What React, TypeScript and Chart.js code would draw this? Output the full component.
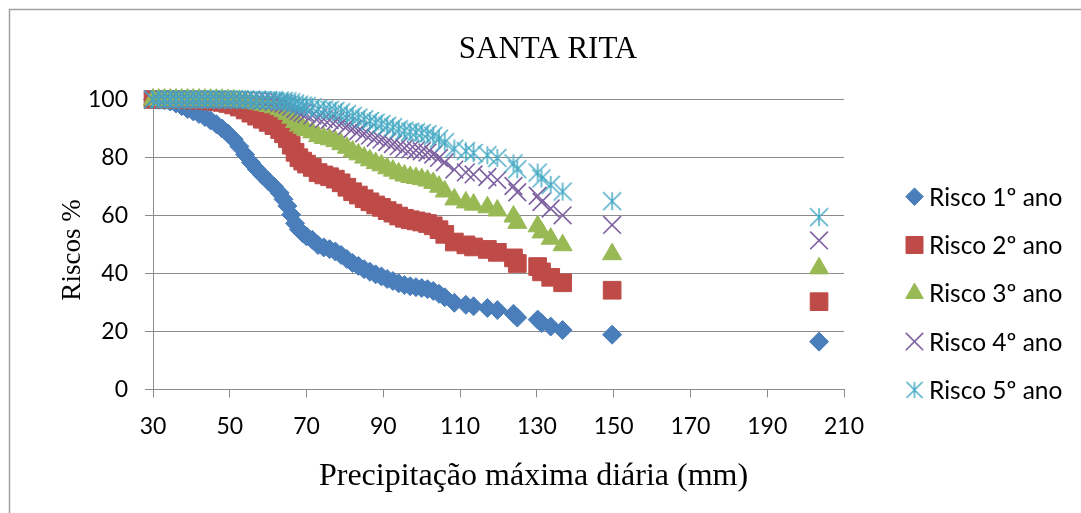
import React, { useEffect, useRef } from 'react';
import { Chart, registerables } from 'chart.js';
import { drawPoint } from 'chart.js/helpers';

Chart.register(...registerables);

const TITLE = 'SANTA RITA';
const X_TITLE = 'Precipitação máxima diária (mm)';
const Y_TITLE = 'Riscos %';
const SERIES_LABELS = ['Risco 1º ano', 'Risco 2º ano', 'Risco 3º ano', 'Risco 4º ano', 'Risco 5º ano'];
const X_TICKS = [30, 50, 70, 90, 110, 130, 150, 170, 190, 210];
const Y_TICKS = [0, 20, 40, 60, 80, 100];

const precip = [30, 31.5, 33, 34.5, 36, 37.5, 39, 40.5, 42, 43.5, 45, 46.5, 48, 49.5, 51, 52.5, 54, 55.5, 57, 58.5,
  60, 61.5, 63, 64, 65, 66, 67, 68, 69, 70,
  71.5, 73, 74.5, 76, 77.5, 79, 80.5, 82, 83.5, 85, 86.5, 88, 89.5, 91, 92.5, 94, 95.5, 97, 98.5, 100, 101.5, 103, 104.5, 106,
  108.5, 111.5, 113.5, 117.1, 119.7, 123.9, 124.9, 130.2, 131.2, 133.6, 136.7, 149.6, 203.5];

const risco1 = [100, 99.9, 99.7, 99.3, 98.6, 97.7, 96.7, 95.9, 95.0, 94.0, 92.8, 91.5, 90.0, 88.3, 86.3, 83.8, 81.0, 78.3, 76.0, 73.9,
  71.9, 70.0, 67.8, 65.6, 63.3, 60.3, 57.3, 55.2, 53.9, 52.8,
  51.6, 49.8, 49.0, 48.4, 47.6, 46.4, 45.0, 43.6, 42.6, 41.5, 40.6, 39.7, 39.0, 38.1, 37.4, 36.6, 36.0, 35.6, 35.3, 35.0, 34.6, 34.0, 33.0, 31.8,
  29.9, 29.2, 28.7, 28.1, 27.4, 26.1, 24.8, 24.1, 22.9, 21.7, 20.5, 18.9, 16.5];

const risco2 = [100, 100, 100, 100, 99.98, 99.95, 99.89, 99.83, 99.75, 99.64, 99.48, 99.28, 99.0, 98.63, 98.12, 97.38, 96.39, 95.29, 94.24, 93.19,
  92.1, 91.0, 89.63, 88.17, 86.53, 84.24, 81.77, 79.93, 78.75, 77.72,
  76.57, 74.8, 73.99, 73.37, 72.54, 71.27, 69.75, 68.19, 67.05, 65.78, 64.72, 63.64, 62.79, 61.68, 60.81, 59.8, 59.04, 58.53, 58.14, 57.75, 57.23, 56.44, 55.11, 53.49,
  50.86, 49.87, 49.16, 48.3, 47.29, 45.39, 43.45, 42.39, 40.56, 38.69, 36.8, 34.23, 30.28];

const risco3 = [100, 100, 100, 100, 100, 100, 100, 99.99, 99.99, 99.98, 99.96, 99.94, 99.9, 99.84, 99.74, 99.57, 99.31, 98.98, 98.62, 98.22,
  97.78, 97.3, 96.66, 95.93, 95.06, 93.74, 92.21, 91.01, 90.2, 89.48,
  88.66, 87.35, 86.73, 86.26, 85.61, 84.6, 83.36, 82.06, 81.09, 79.98, 79.04, 78.07, 77.3, 76.28, 75.47, 74.52, 73.79, 73.29, 72.92, 72.54, 72.03, 71.25, 69.92, 68.28,
  65.55, 64.51, 63.75, 62.83, 61.73, 59.64, 57.47, 56.28, 54.17, 52.0, 49.75, 46.66, 41.78];

const risco4 = [100, 100, 100, 100, 100, 100, 100, 100, 100, 100, 100, 99.99, 99.99, 99.98, 99.96, 99.93, 99.87, 99.78, 99.67, 99.54,
  99.38, 99.19, 98.92, 98.6, 98.19, 97.52, 96.68, 95.97, 95.48, 95.04,
  94.51, 93.65, 93.23, 92.91, 92.46, 91.75, 90.85, 89.88, 89.14, 88.29, 87.55, 86.78, 86.15, 85.32, 84.64, 83.84, 83.22, 82.8, 82.48, 82.15, 81.71, 81.03, 79.85, 78.37,
  75.85, 74.87, 74.16, 73.28, 72.22, 70.18, 68.02, 66.81, 64.66, 62.41, 60.06, 56.74, 51.39];

const risco5 = [100, 100, 100, 100, 100, 100, 100, 100, 100, 100, 100, 100, 100, 100, 100, 99.99, 99.98, 99.95, 99.92, 99.88,
  99.82, 99.76, 99.65, 99.52, 99.33, 99.01, 98.58, 98.2, 97.92, 97.66,
  97.34, 96.81, 96.55, 96.34, 96.05, 95.58, 94.97, 94.29, 93.77, 93.15, 92.6, 92.03, 91.55, 90.91, 90.39, 89.76, 89.26, 88.92, 88.66, 88.4, 88.04, 87.48, 86.5, 85.25,
  83.07, 82.21, 81.57, 80.78, 79.83, 77.96, 75.95, 74.81, 72.76, 70.57, 68.24, 64.92, 59.41];

const COLORS = ['#4A7EBB', '#BE4B48', '#98B954', '#7D60A0', '#46AAC5'];

function makeStar(size: number, color: string, lw: number): HTMLCanvasElement {
  const c = document.createElement('canvas');
  c.width = size;
  c.height = size;
  const ctx = c.getContext('2d')!;
  ctx.strokeStyle = color;
  ctx.lineWidth = lw;
  const h = size / 2;
  const r = size / 2 - 1;
  ctx.beginPath();
  ctx.moveTo(h - r, h - r); ctx.lineTo(h + r, h + r);
  ctx.moveTo(h + r, h - r); ctx.lineTo(h - r, h + r);
  ctx.moveTo(h, h - r); ctx.lineTo(h, h + r);
  ctx.stroke();
  return c;
}

export default function App() {
  const ref = useRef<HTMLCanvasElement>(null);

  useEffect(() => {
    document.body.style.margin = '0';
    const starPlot = makeStar(20, COLORS[4], 1.5);
    const starLegend = makeStar(18, COLORS[4], 1.5);
    const seriesValues = [risco1, risco2, risco3, risco4, risco5];
    const styles: any[] = ['rectRot', 'rect', 'triangle', 'crossRot', starPlot];
    const radii = [9.5, 12.5, 11, 12.5, 10];
    const bws = [1, 1, 1, 1.6, 1.5];
    const legendStyles: any[] = ['rectRot', 'rect', 'triangle', 'crossRot', starLegend];
    const legendRadii = [8.8, 12, 10.2, 12.3, 9];

    const decor = {
      id: 'decor',
      afterDraw(chart: any) {
        const ctx = chart.ctx as CanvasRenderingContext2D;
        ctx.save();
        ctx.strokeStyle = '#a0a0a0';
        ctx.lineWidth = 1.5;
        ctx.beginPath();
        ctx.moveTo(9.5, 513);
        ctx.lineTo(9.5, 9.5);
        ctx.lineTo(1081, 9.5);
        ctx.stroke();

        ctx.fillStyle = '#000';
        ctx.textAlign = 'center';
        ctx.textBaseline = 'alphabetic';
        ctx.font = '31px "Liberation Serif"';
        ctx.fillText(TITLE, 548, 58);
        ctx.font = '32px "Liberation Serif"';
        ctx.fillText(X_TITLE, 533.5, 485);
        ctx.save();
        ctx.translate(80, 250);
        ctx.rotate(-Math.PI / 2);
        ctx.font = '27px "Liberation Serif"';
        ctx.fillText(Y_TITLE, 0, 0);
        ctx.restore();

        ctx.textAlign = 'left';
        ctx.textBaseline = 'middle';
        ctx.font = '24.5px Lato';
        for (let i = 0; i < SERIES_LABELS.length; i++) {
          const y = 196.7 + i * 48.3;
          ctx.fillStyle = COLORS[i];
          ctx.strokeStyle = COLORS[i];
          ctx.lineWidth = bws[i];
          drawPoint(ctx, { pointStyle: legendStyles[i], radius: legendRadii[i], borderWidth: bws[i], rotation: 0 } as any, 914.5, y);
          ctx.fillStyle = '#000';
          ctx.fillText(SERIES_LABELS[i], 929, y + 1);
        }
        ctx.restore();
      },
    };

    const chart = new Chart(ref.current!, {
      type: 'scatter',
      data: {
        datasets: seriesValues.map((vals, i) => ({
          label: SERIES_LABELS[i],
          data: precip.map((x, j) => ({ x, y: vals[j] })),
          pointStyle: styles[i],
          pointRadius: radii[i],
          pointHoverRadius: radii[i],
          pointBorderWidth: bws[i],
          backgroundColor: COLORS[i],
          borderColor: COLORS[i],
          showLine: false,
          clip: false as any,
          order: 4 - i,
        })),
      },
      options: {
        responsive: false,
        animation: false,
        events: [],
        layout: { padding: { left: 83, right: 237, top: 99.5, bottom: 63.5 } },
        plugins: {
          legend: { display: false },
          title: { display: false },
          tooltip: { enabled: false },
        },
        scales: {
          x: {
            type: 'linear',
            min: 30,
            max: 210,
            afterBuildTicks: (s: any) => { s.ticks = X_TICKS.map((v) => ({ value: v })); },
            afterFit: (s: any) => { s.height = 60; },
            ticks: { color: '#000', font: { family: 'Lato', size: 23 }, padding: 15, maxRotation: 0, autoSkip: false },
            grid: { drawOnChartArea: false, drawTicks: true, tickLength: 8, color: '#8c8c8c', lineWidth: 1 },
            border: { color: '#8c8c8c', width: 1 },
          },
          y: {
            type: 'linear',
            min: 0,
            max: 100,
            afterBuildTicks: (s: any) => { s.ticks = Y_TICKS.map((v) => ({ value: v })); },
            afterFit: (s: any) => { s.width = 70; },
            ticks: { color: '#000', font: { family: 'Lato', size: 23 }, padding: 17 },
            grid: { drawTicks: true, tickLength: 8, color: '#8c8c8c', lineWidth: 1 },
            border: { color: '#8c8c8c', width: 1 },
          },
        },
      },
      plugins: [decor],
    });
    return () => chart.destroy();
  }, []);

  return (
    <div style={{ width: 1081, height: 513, position: 'relative', background: '#fff' }}>
      <canvas ref={ref} width={1081} height={513} style={{ display: 'block' }} />
    </div>
  );
}
